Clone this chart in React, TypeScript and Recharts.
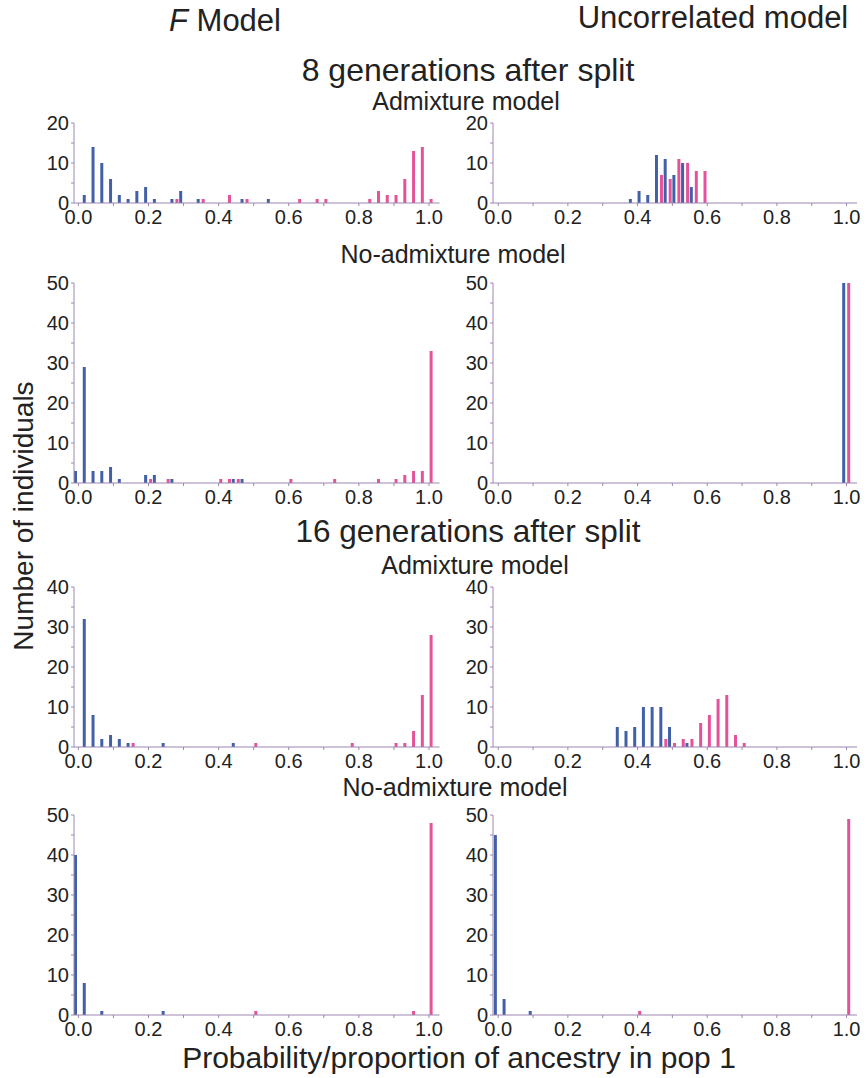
import { BarChart, Bar, XAxis, YAxis } from "recharts"

// bin centres on the ancestry axis, then counts per bin
// blue = individuals from pop 2, pink = individuals from pop 1
const gen8AdmixFBins = [0.025, 0.05, 0.075, 0.1, 0.125, 0.15, 0.175, 0.2, 0.225, 0.275, 0.3, 0.35, 0.425, 0.475, 0.55, 0.625, 0.675, 0.7, 0.825, 0.85, 0.875, 0.9, 0.925, 0.95, 0.975, 1.0]
const gen8AdmixFBlue = [2, 14, 10, 6, 2, 1, 3, 4, 1, 1, 3, 1, 0, 1, 1, 0, 0, 0, 0, 0, 0, 0, 0, 0, 0, 0]
const gen8AdmixFPink = [0, 0, 0, 0, 0, 0, 0, 0, 0, 1, 0, 1, 2, 1, 0, 1, 1, 1, 1, 3, 2, 2, 6, 13, 14, 1]

const gen8AdmixUBins = [0.3875, 0.4125, 0.4375, 0.4625, 0.4875, 0.5125, 0.5375, 0.5625, 0.5875]
const gen8AdmixUBlue = [1, 3, 2, 12, 11, 7, 10, 4, 0]
const gen8AdmixUPink = [0, 0, 0, 7, 6, 11, 10, 8, 8]

const gen8NoAdmixFBins = [0, 0.025, 0.05, 0.075, 0.1, 0.125, 0.2, 0.225, 0.25, 0.275, 0.4, 0.425, 0.45, 0.475, 0.6, 0.725, 0.85, 0.9, 0.925, 0.95, 0.975, 1.0]
const gen8NoAdmixFBlue = [3, 29, 3, 3, 4, 1, 2, 2, 0, 1, 0, 0, 1, 1, 0, 0, 0, 0, 0, 0, 0, 0]
const gen8NoAdmixFPink = [0, 0, 0, 0, 0, 0, 1, 0, 1, 0, 1, 1, 1, 0, 1, 1, 1, 1, 2, 3, 3, 33]

const gen8NoAdmixUBins = [0.975, 1.0]
const gen8NoAdmixUBlue = [0, 50]
const gen8NoAdmixUPink = [0, 50]

const gen16AdmixFBins = [0.025, 0.05, 0.075, 0.1, 0.125, 0.15, 0.25, 0.45, 0.5, 0.775, 0.9, 0.925, 0.95, 0.975, 1.0]
const gen16AdmixFBlue = [32, 8, 2, 3, 2, 1, 1, 1, 0, 0, 0, 0, 0, 0, 0]
const gen16AdmixFPink = [0, 0, 0, 0, 0, 1, 0, 0, 1, 1, 1, 1, 4, 13, 28]

const gen16AdmixUBins = [0.35, 0.375, 0.4, 0.425, 0.45, 0.475, 0.5, 0.525, 0.55, 0.575, 0.6, 0.625, 0.65, 0.675, 0.7]
const gen16AdmixUBlue = [5, 4, 5, 10, 10, 10, 5, 0, 1, 0, 0, 0, 0, 0, 0]
const gen16AdmixUPink = [0, 0, 0, 0, 0, 2, 1, 2, 2, 6, 8, 12, 13, 3, 1]

const gen16NoAdmixFBins = [0, 0.025, 0.075, 0.25, 0.5, 0.95, 1.0]
const gen16NoAdmixFBlue = [40, 8, 1, 1, 0, 0, 0]
const gen16NoAdmixFPink = [0, 0, 0, 0, 1, 1, 48]

const gen16NoAdmixUBins = [0, 0.025, 0.1, 0.4, 1.0]
const gen16NoAdmixUBlue = [45, 4, 1, 0, 0]
const gen16NoAdmixUPink = [0, 0, 0, 1, 49]

const xTicks = [0, 0.1, 0.2, 0.3, 0.4, 0.5, 0.6, 0.7, 0.8, 0.9, 1.0]
const yTicks20 = [0, 5, 10, 15, 20]
const yTicks40 = [0, 5, 10, 15, 20, 25, 30, 35, 40]
const yTicks50 = [0, 5, 10, 15, 20, 25, 30, 35, 40, 45, 50]

const BLUE = "#4260a8"
const PINK = "#e4539a"
const AXIS = "#9c86b0"
const INK = "#222"
const FONT = "'Liberation Sans', Arial, Helvetica, sans-serif"

const YW = 46 // y axis width
const MT = 10
const MR = 8
const XH = 34
const PX_PER_COUNT = 4

const fmtX = (v: number) => (Math.round(v * 10) % 2 === 0 ? v.toFixed(1) : "")
const fmtY = (v: number) => (v % 10 === 0 ? String(v) : "")

type PanelProps = {
    left: number
    top: number
    plotW: number
    domain: [number, number]
    yMax: number
    yTicks: number[]
    bins: number[]
    blue: number[]
    pink: number[]
}

function Panel({ left, top, plotW, domain, yMax, yTicks, bins, blue, pink }: PanelProps) {
    const data = bins.map((x, i) => ({ x, blue: blue[i], pink: pink[i] }))
    const plotH = yMax * PX_PER_COUNT
    return (
        <div style={{ position: "absolute", left: left - YW, top: top - MT }}>
            <BarChart
                width={YW + plotW + MR}
                height={MT + plotH + XH}
                data={data}
                margin={{ top: MT, right: MR, left: 0, bottom: 0 }}
                barGap={2}
            >
                <XAxis
                    dataKey="x"
                    type="number"
                    domain={domain}
                    allowDataOverflow
                    ticks={xTicks}
                    interval={0}
                    tickFormatter={fmtX}
                    height={XH}
                    stroke={AXIS}
                    tickSize={3}
                    tickMargin={4}
                    tick={{ fill: INK, fontSize: 20 }}
                />
                <YAxis
                    type="number"
                    domain={[0, yMax]}
                    allowDataOverflow
                    ticks={yTicks}
                    interval={0}
                    tickFormatter={fmtY}
                    width={YW}
                    stroke={AXIS}
                    tickSize={3}
                    tickMargin={2}
                    tick={{ fill: INK, fontSize: 20 }}
                />
                <Bar dataKey="blue" fill={BLUE} barSize={3} isAnimationActive={false} />
                <Bar dataKey="pink" fill={PINK} barSize={3} isAnimationActive={false} />
            </BarChart>
        </div>
    )
}

const LEFT = { left: 74, plotW: 365.5, domain: [-0.0125, 1.03] as [number, number] }
const RIGHT = { left: 493, plotW: 364, domain: [-0.015, 1.03] as [number, number] }

function Label({ x, y, size, children, rotate }: { x: number; y: number; size: number; children: any; rotate?: boolean }) {
    return (
        <div
            style={{
                position: "absolute",
                left: x,
                top: y,
                transform: `translate(-50%, -50%)${rotate ? " rotate(-90deg)" : ""}`,
                fontSize: size,
                lineHeight: 1,
                whiteSpace: "nowrap",
                color: INK,
                fontFamily: FONT,
            }}
        >
            {children}
        </div>
    )
}

export default function App() {
    return (
        <div
            style={{
                position: "absolute",
                left: 0,
                top: 0,
                width: 868,
                height: 1078,
                overflow: "hidden",
                background: "#fff",
                fontFamily: FONT,
            }}
        >
            <Label x={225} y={20} size={31}>
                <span style={{ fontStyle: "italic" }}>F</span> Model
            </Label>
            <Label x={713} y={17} size={31}>Uncorrelated model</Label>
            <Label x={468} y={70} size={32}>8 generations after split</Label>
            <Label x={466} y={101} size={25}>Admixture model</Label>
            <Label x={453} y={254} size={25}>No-admixture model</Label>
            <Label x={468} y={532} size={31.5}>16 generations after split</Label>
            <Label x={475} y={565} size={25}>Admixture model</Label>
            <Label x={455} y={787} size={25}>No-admixture model</Label>
            <Label x={459} y={1058} size={30}>Probability/proportion of ancestry in pop 1</Label>
            <Label x={24} y={516} size={28} rotate>Number of individuals</Label>

            <Panel {...LEFT} top={122.7} yMax={20} yTicks={yTicks20} bins={gen8AdmixFBins} blue={gen8AdmixFBlue} pink={gen8AdmixFPink} />
            <Panel {...RIGHT} top={122.7} yMax={20} yTicks={yTicks20} bins={gen8AdmixUBins} blue={gen8AdmixUBlue} pink={gen8AdmixUPink} />
            <Panel {...LEFT} top={282.7} yMax={50} yTicks={yTicks50} bins={gen8NoAdmixFBins} blue={gen8NoAdmixFBlue} pink={gen8NoAdmixFPink} />
            <Panel {...RIGHT} top={282.7} yMax={50} yTicks={yTicks50} bins={gen8NoAdmixUBins} blue={gen8NoAdmixUBlue} pink={gen8NoAdmixUPink} />
            <Panel {...LEFT} top={587.3} yMax={40} yTicks={yTicks40} bins={gen16AdmixFBins} blue={gen16AdmixFBlue} pink={gen16AdmixFPink} />
            <Panel {...RIGHT} top={587.3} yMax={40} yTicks={yTicks40} bins={gen16AdmixUBins} blue={gen16AdmixUBlue} pink={gen16AdmixUPink} />
            <Panel {...LEFT} top={815} yMax={50} yTicks={yTicks50} bins={gen16NoAdmixFBins} blue={gen16NoAdmixFBlue} pink={gen16NoAdmixFPink} />
            <Panel {...RIGHT} top={815} yMax={50} yTicks={yTicks50} bins={gen16NoAdmixUBins} blue={gen16NoAdmixUBlue} pink={gen16NoAdmixUPink} />
        </div>
    )
}
